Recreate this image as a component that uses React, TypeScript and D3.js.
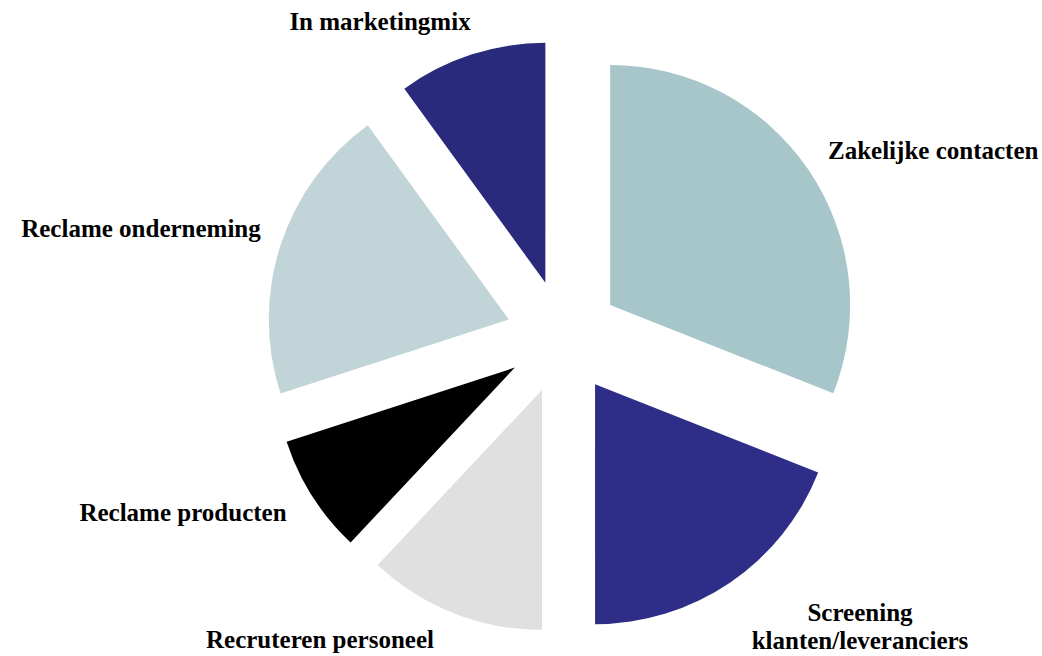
import React from "react";
import * as d3 from "d3";

const categories = [
  "Zakelijke contacten",
  "Screening klanten/leveranciers",
  "Recruteren personeel",
  "Reclame producten",
  "Reclame onderneming",
  "In marketingmix",
];
const values = [31, 19, 12, 8, 20, 10];
const colors = ["#a6c6c9", "#2e2e88", "#e0e0e0", "#000000", "#c1d4d7", "#2a2a7c"];
const labelLines = [
  ["Zakelijke contacten"],
  ["Screening", "klanten/leveranciers"],
  ["Recruteren personeel"],
  ["Reclame producten"],
  ["Reclame onderneming"],
  ["In marketingmix"],
];
// label placement (first-line baseline anchor)
const labelPos: [number, number, string][] = [
  [828, 159, "start"],
  [860, 621, "middle"],
  [320, 648, "middle"],
  [183, 521, "middle"],
  [141, 237, "middle"],
  [380, 30, "middle"],
];

const W = 1042;
const H = 656;
const cx = 563;
const cy = 337;
const R = 240;
const explode = 57;

export default function App() {
  const pie = d3
    .pie<number>()
    .sort(null)
    .value((d) => d)
    .startAngle(0)
    .endAngle(2 * Math.PI);
  const arcs = pie(values);
  const arc = d3.arc<d3.PieArcDatum<number>>().innerRadius(0).outerRadius(R);

  return (
    <svg
      width={W}
      height={H}
      style={{ position: "absolute", left: 0, top: 0, background: "#fff" }}
    >
      <g transform={`translate(${cx},${cy})`}>
        {arcs.map((a, i) => {
          const mid = (a.startAngle + a.endAngle) / 2;
          const dx = Math.sin(mid) * explode;
          const dy = -Math.cos(mid) * explode;
          return (
            <path
              key={categories[i]}
              d={arc(a) || ""}
              fill={colors[i]}
              transform={`translate(${dx},${dy})`}
            />
          );
        })}
      </g>
      {labelLines.map((lines, i) => (
        <text
          key={i}
          x={labelPos[i][0]}
          y={labelPos[i][1]}
          textAnchor={labelPos[i][2] as any}
          fontFamily="'Liberation Serif', 'Times New Roman', serif"
          fontWeight="bold"
          fontSize={25}
          fill="#000"
        >
          {lines.map((l, j) => (
            <tspan key={j} x={labelPos[i][0]} dy={j === 0 ? 0 : 28}>
              {l}
            </tspan>
          ))}
        </text>
      ))}
    </svg>
  );
}
